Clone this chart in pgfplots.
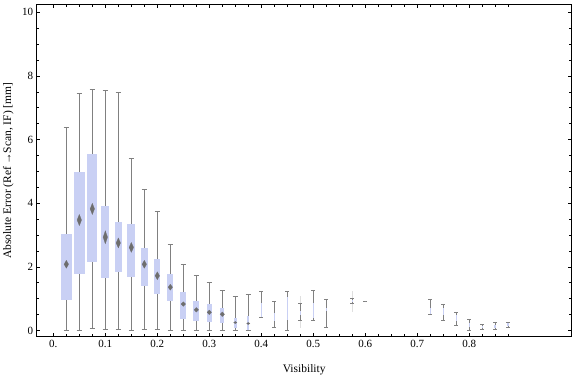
\documentclass[border=0pt]{standalone}
\usepackage{fontspec}
\setmainfont{Liberation Serif}
\usepackage{pgfplots}
\pgfplotsset{compat=1.18}
\usepgfplotslibrary{statistics}
\definecolor{boxc}{RGB}{201,208,244}
\definecolor{whc}{RGB}{128,128,128}
\definecolor{dmc}{RGB}{110,110,110}
\pgfplotsset{
  bw/.style={whc, line width=0.6pt, boxplot/draw direction=y, boxplot/box extend=#1, boxplot/whisker extend=0.010,
    boxplot/every box/.style={fill=boxc, draw=none}, boxplot/draw/median/.code={}},
  bw/.default=0.0205,
  bs/.style={bw=0.003, boxplot/whisker extend=0.007},
  dm/.style={dmc, only marks, mark=diamond*, mark size=3pt, line width=0.2pt, mark options={draw=dmc, fill=dmc, yscale=#1}},
}
\begin{document}
\begin{tikzpicture}
\begin{axis}[
  scale only axis, width=535pt, height=332pt,
  xmin=-0.032, xmax=0.997, ymin=-0.195, ymax=10.235,
  axis line style={line width=0.6pt},
  tick style={black, line width=0.5pt},
  tick align=inside,
  xtick={0,0.1,0.2,0.3,0.4,0.5,0.6,0.7,0.8},
  xticklabels={0.,0.1,0.2,0.3,0.4,0.5,0.6,0.7,0.8},
  minor xtick={0.025,0.05,0.075,0.125,0.15,0.175,0.225,0.25,0.275,0.325,0.35,0.375,0.425,0.45,0.475,0.525,0.55,0.575,0.625,0.65,0.675,0.725,0.75,0.775,0.825,0.85,0.875},
  ytick={0,2,4,6,8,10},
  minor ytick={0.5,1,1.5,2.5,3,3.5,4.5,5,5.5,6.5,7,7.5,8.5,9,9.5},
  major tick length=3.8pt, minor tick length=2.7pt,
  /pgf/number format/assume math mode=true,
  tick label style={font=\fontsize{11}{12}\selectfont},
  label style={font=\fontsize{11.5}{13}\selectfont},
  xlabel={Visibility},
  ylabel={Absolute Error (Ref\,→Scan, IF) [mm]},
  xlabel style={at={(axis description cs:0.5,-0.1003)}, anchor=center},
  ylabel style={at={(axis description cs:-0.0531,0.5)}, anchor=center},
  clip=false,
]
% faint whisker extensions
\addplot[gray!25, line width=0.6pt, unbounded coords=jump] coordinates {
 (0.475,0.09) (0.475,1.08) (nan,nan) (0.575,0.59) (0.575,1.24) (nan,nan) (0.425,0.3) (0.425,0.56)};
% dense bins
\addplot[bw=0.0206, boxplot prepared={draw position=0.025, lower whisker=0.00, lower quartile=0.96, median=2.08, upper quartile=3.03, upper whisker=6.37}] coordinates {};
\addplot[bw=0.0206, boxplot prepared={draw position=0.05, lower whisker=0.00, lower quartile=1.77, median=3.47, upper quartile=4.99, upper whisker=7.45}] coordinates {};
\addplot[bw=0.0198, boxplot prepared={draw position=0.075, lower whisker=0.07, lower quartile=2.16, median=3.82, upper quartile=5.55, upper whisker=7.58}] coordinates {};
\addplot[bw=0.0160, boxplot prepared={draw position=0.1, lower whisker=0.04, lower quartile=1.66, median=2.93, upper quartile=3.91, upper whisker=7.55}] coordinates {};
\addplot[bw=0.0135, boxplot prepared={draw position=0.125, lower whisker=0.04, lower quartile=1.85, median=2.75, upper quartile=3.41, upper whisker=7.48}] coordinates {};
\addplot[bw=0.0154, boxplot prepared={draw position=0.15, lower whisker=0.00, lower quartile=1.69, median=2.61, upper quartile=3.35, upper whisker=5.41}] coordinates {};
\addplot[bw=0.0135, boxplot prepared={draw position=0.175, lower whisker=0.04, lower quartile=1.39, median=2.08, upper quartile=2.59, upper whisker=4.43}] coordinates {};
\addplot[bw=0.0117, boxplot prepared={draw position=0.2, lower whisker=0.04, lower quartile=1.16, median=1.72, upper quartile=2.25, upper whisker=3.74}] coordinates {};
\addplot[bw=0.0117, boxplot prepared={draw position=0.225, lower whisker=0.00, lower quartile=0.94, median=1.36, upper quartile=1.78, upper whisker=2.71}] coordinates {};
\addplot[bw=0.0115, boxplot prepared={draw position=0.25, lower whisker=0.00, lower quartile=0.37, median=0.83, upper quartile=1.21, upper whisker=2.09}] coordinates {};
\addplot[bw=0.0110, boxplot prepared={draw position=0.275, lower whisker=0.00, lower quartile=0.31, median=0.65, upper quartile=0.93, upper whisker=1.73}] coordinates {};
\addplot[bw=0.0096, boxplot prepared={draw position=0.3, lower whisker=0.00, lower quartile=0.28, median=0.57, upper quartile=0.83, upper whisker=1.51}] coordinates {};
\addplot[bw=0.0077, boxplot prepared={draw position=0.325, lower whisker=0.00, lower quartile=0.25, median=0.51, upper quartile=0.72, upper whisker=1.26}] coordinates {};
\addplot[bw=0.0058, boxplot prepared={draw position=0.35, lower whisker=0.00, lower quartile=0.09, median=0.25, upper quartile=0.39, upper whisker=1.08}] coordinates {};
\addplot[bw=0.0040, boxplot prepared={draw position=0.375, lower whisker=0.00, lower quartile=0.00, median=0.22, upper quartile=0.46, upper whisker=1.15}] coordinates {};
% sparse bins
\addplot[bs, boxplot prepared={draw position=0.4, lower whisker=0.41, lower quartile=0.41, median=0.6, upper quartile=0.86, upper whisker=1.22}] coordinates {};
\addplot[bs, boxplot prepared={draw position=0.425, lower whisker=0.09, lower quartile=0.30, median=0.45, upper quartile=0.56, upper whisker=0.93}] coordinates {};
\addplot[bs, boxplot prepared={draw position=0.45, lower whisker=0.00, lower quartile=0.33, median=0.6, upper quartile=1.04, upper whisker=1.22}] coordinates {};
\addplot[bs, boxplot prepared={draw position=0.475, lower whisker=0.32, lower quartile=0.50, median=0.55, upper quartile=0.60, upper whisker=0.85}] coordinates {};
\addplot[bs, boxplot prepared={draw position=0.5, lower whisker=0.32, lower quartile=0.39, median=0.6, upper quartile=0.85, upper whisker=1.25}] coordinates {};
\addplot[bs, boxplot prepared={draw position=0.525, lower whisker=0.11, lower quartile=0.62, median=0.65, upper quartile=0.70, upper whisker=0.97}] coordinates {};
\addplot[bs, boxplot prepared={draw position=0.575, lower whisker=0.85, lower quartile=0.90, median=0.92, upper quartile=0.95, upper whisker=1.01}] coordinates {};
\addplot[bs, boxplot prepared={draw position=0.6, lower whisker=0.93, lower quartile=0.93, median=0.93, upper quartile=0.93, upper whisker=0.93}] coordinates {};
\addplot[bs, boxplot prepared={draw position=0.725, lower whisker=0.51, lower quartile=0.51, median=0.6, upper quartile=0.70, upper whisker=0.99}] coordinates {};
\addplot[bs, boxplot prepared={draw position=0.75, lower whisker=0.31, lower quartile=0.50, median=0.6, upper quartile=0.70, upper whisker=0.83}] coordinates {};
\addplot[bs, boxplot prepared={draw position=0.775, lower whisker=0.16, lower quartile=0.30, median=0.4, upper quartile=0.50, upper whisker=0.58}] coordinates {};
\addplot[bs, boxplot prepared={draw position=0.8, lower whisker=0.00, lower quartile=0.10, median=0.2, upper quartile=0.25, upper whisker=0.36}] coordinates {};
\addplot[bs, boxplot prepared={draw position=0.825, lower whisker=0.04, lower quartile=0.08, median=0.1, upper quartile=0.15, upper whisker=0.20}] coordinates {};
\addplot[bs, boxplot prepared={draw position=0.85, lower whisker=0.04, lower quartile=0.08, median=0.12, upper quartile=0.18, upper whisker=0.25}] coordinates {};
\addplot[bs, boxplot prepared={draw position=0.875, lower whisker=0.09, lower quartile=0.13, median=0.18, upper quartile=0.22, upper whisker=0.27}] coordinates {};
% median diamonds
\addplot[dm=2.17] coordinates {(0.1,2.93)};
\addplot[dm=1.88] coordinates {(0.05,3.47) (0.075,3.82)};
\addplot[dm=1.67] coordinates {(0.125,2.75) (0.15,2.61)};
\addplot[dm=1.33] coordinates {(0.025,2.08) (0.175,2.08) (0.2,1.72)};
\addplot[dm=1.0] coordinates {(0.225,1.36)};
\addplot[dm=0.78] coordinates {(0.25,0.83) (0.275,0.65) (0.3,0.57) (0.325,0.51)};
\addplot[dm=0.5, mark size=2.2pt] coordinates {(0.35,0.25) (0.375,0.22)};
\end{axis}
\pgfresetboundingbox
\path (-36.7pt,-40.3pt) rectangle (539.3pt,336.7pt);
\end{tikzpicture}
\end{document}
